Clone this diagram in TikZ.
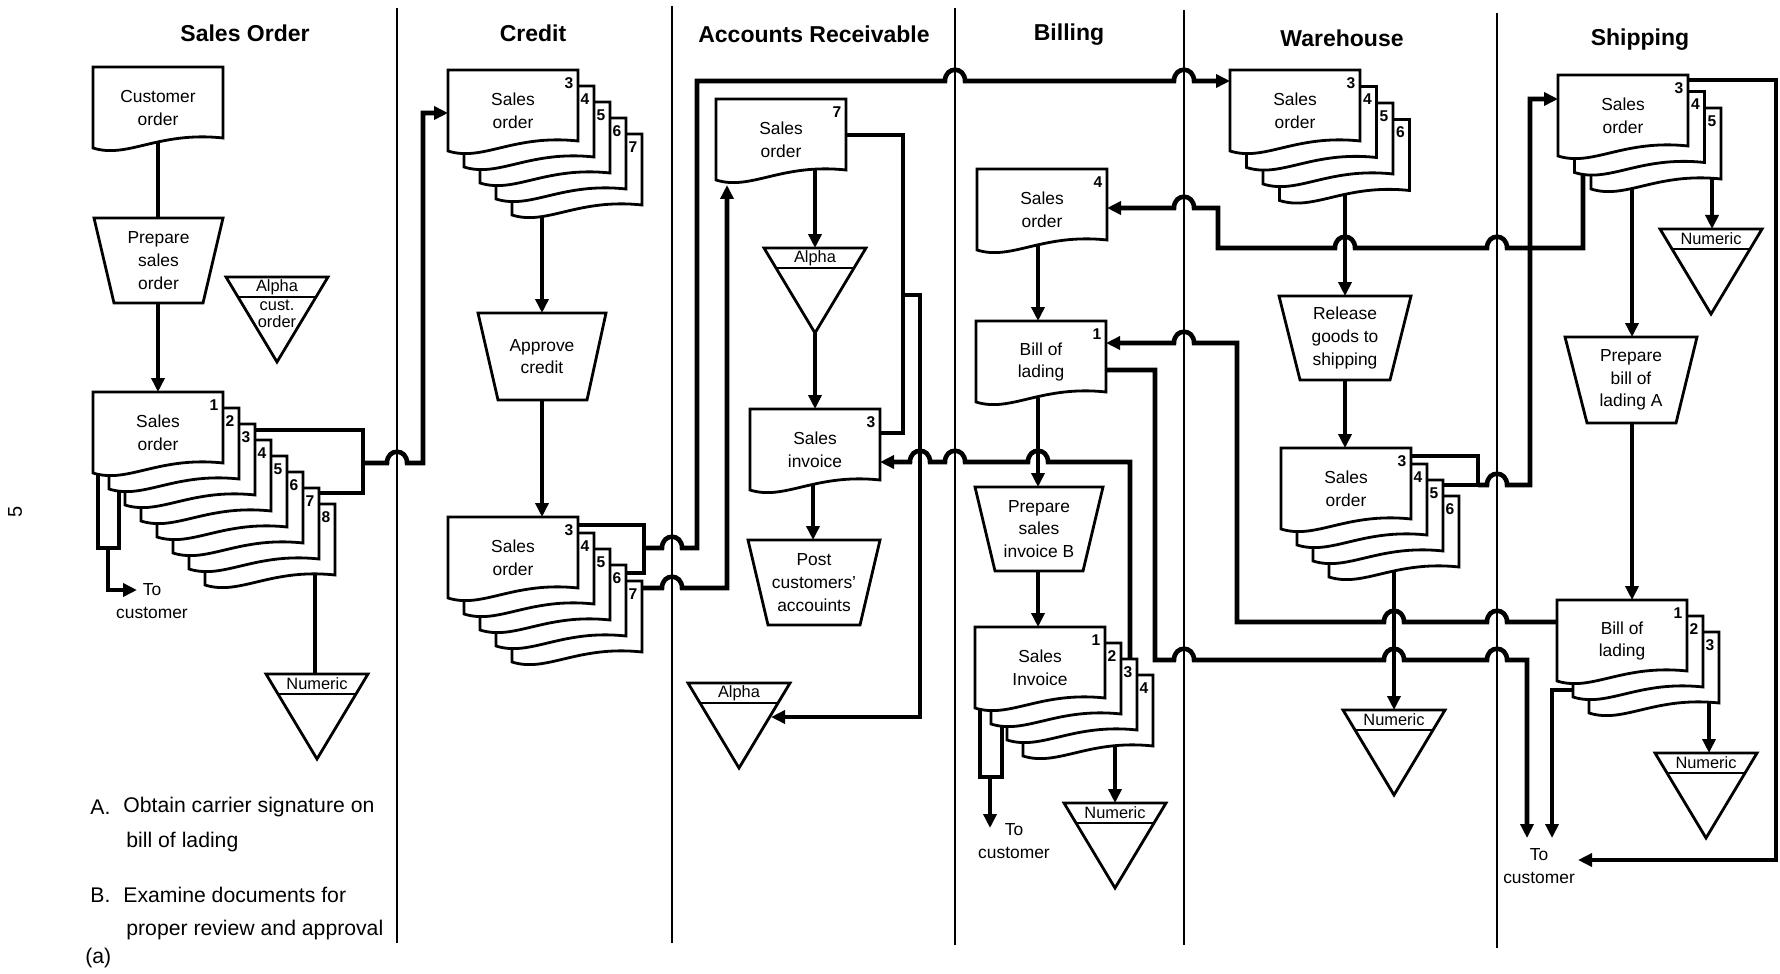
\documentclass[tikz,border=0pt]{standalone}
\usepackage{fontspec}
\setmainfont{Liberation Sans}
\usetikzlibrary{arrows.meta,calc}
\tikzset{
  laneline/.style={line width=1.1pt},
  conn/.style={line width=2.3pt},
  arr/.style={conn,-{Triangle[length=7pt,width=6.5pt]}},
  shp/.style={line width=1.4pt,fill=white},
  doctext/.style={font=\fontsize{8.7}{11.3}\selectfont,align=center,inner sep=0pt},
  numlbl/.style={font=\fontsize{7.8}{9}\selectfont\bfseries,inner sep=0pt},
  lanetitle/.style={font=\fontsize{11.5}{14}\selectfont\bfseries,inner sep=0pt},
  notetext/.style={font=\fontsize{10.6}{13}\selectfont,inner sep=0pt,anchor=west},
  filelbl/.style={font=\fontsize{8.2}{10}\selectfont,inner sep=0pt},
  hr/.style args={#1/#2}{insert path={-- (#1-10,#2) .. controls (#1-10,#2-15) and (#1+10,#2-15) .. (#1+10,#2)}},
  hl/.style args={#1/#2}{insert path={-- (#1+10,#2) .. controls (#1+10,#2-15) and (#1-10,#2-15) .. (#1-10,#2)}}
}
\newcommand\docshape[2]{\draw[shp] (#1,#2) -- (#1+130,#2) -- (#1+130,#2+71) .. controls (#1+65,#2+64) and (#1+35,#2+92) .. (#1,#2+81) -- cycle;}
\newcommand\docstack[7]{%
  \foreach \k in {#3,...,0}{%
    \pgfmathtruncatemacro\dnum{#4+\k}%
    \docshape{#1+#7*\k}{#2+#7*\k}%
    \node[numlbl] (#6n\k) at (#1+#7*\k+121,#2+#7*\k+13) {\dnum};}%
  \node[doctext] (#6) at (#1+65,#2+41) {#5};}
\newcommand\singledoc[5]{%
  \docshape{#1}{#2}%
  \node[numlbl] (#5n) at (#1+121,#2+13) {#3};%
  \node[doctext] (#5) at (#1+65,#2+41) {#4};}
\newcommand\manop[8]{%
  \draw[shp] (#3,#2) -- (#4,#2) -- (#7,#5) -- (#6,#5) -- cycle;
  \node[doctext] (#1) at ({(#3+#4)/2},{(#2+#5)/2}) {#8};}
\newcommand\filetri[4]{%
  \draw[shp] (#1-51,#2) -- (#1+51,#2) -- (#1,#2+85) -- cycle;
  \draw[line width=1.4pt] (#1-39,#2+20) -- (#1+39,#2+20);
  \node[filelbl] (#4) at (#1,#2+10) {#3};}
\begin{document}
\begin{tikzpicture}[x=0.5pt,y=-0.5pt]
\fill[white] (0,0) rectangle (1780,973);
\path[use as bounding box] (0,0) rectangle (1780,973);
% lanes
\draw[laneline] (397,8) -- (397,943);
\draw[laneline] (672,6) -- (672,943);
\draw[laneline] (955,8) -- (955,945);
\draw[laneline] (1184,10) -- (1184,945);
\draw[laneline] (1497,13) -- (1497,948);
% titles
\node[lanetitle] (t1) at (245,33) {Sales Order};
\node[lanetitle] (t2) at (533,33) {Credit};
\node[lanetitle] (t3) at (814,34) {Accounts Receivable};
\node[lanetitle] (t4) at (1069,35) {Billing};
\node[lanetitle] (t5) at (1342,38) {Warehouse};
\node[lanetitle] (t6) at (1640,40) {Shipping};
% connectors: sales order lane
\draw[conn] (158,140) -- (158,218);
\draw[arr] (158,303) -- (158,392);
\draw[conn] (98,470) -- (98,548) -- (119,548) -- (119,485);
\draw[arr] (108,548) -- (108,590) -- (137,590);
\draw[conn] (250,430) -- (363,430) -- (363,493) -- (310,493);
\draw[arr] (363,463) [hr=397/463] -- (423,463) -- (423,113) -- (448,113);
\draw[conn] (315,570) -- (315,674);
% credit
\draw[arr] (542,205) -- (542,313);
\draw[arr] (542,398) -- (542,517);
\draw[conn] (570,525) -- (644,525) -- (644,573) -- (620,573);
\draw[arr] (644,548) [hr=672/548] -- (697,548) -- (697,81) [hr=955/81] [hr=1184/81] -- (1230,81);
\draw[arr] (636,588) [hr=672/588] -- (727,588) -- (727,185);
% accounts receivable
\draw[arr] (815,170) -- (815,248);
\draw[arr] (815,330) -- (815,409);
\draw[arr] (813,485) -- (813,540);
\draw[conn] (840,135) -- (903,135) -- (903,433) -- (875,433);
\draw[arr] (903,295) -- (920,295) -- (920,717) -- (771,717);
\draw[arr] (1130,665) -- (1130,462) [hl=1038/462] [hl=955/462] [hl=920/462] -- (880,462);
% billing
\draw[arr] (1583,170) -- (1583,248) [hl=1497/248] [hl=1345/248] -- (1218,248) -- (1218,208) [hl=1184/208] -- (1107,208);
\draw[arr] (1038,240) -- (1038,321);
\draw[arr] (1038,398) -- (1038,487);
\draw[arr] (1038,571) -- (1038,627);
\draw[arr] (1562,622) [hl=1497/622] [hl=1394/622] -- (1237,622) -- (1237,343) [hl=1184/343] -- (1106,343);
\draw[arr] (1100,370) -- (1155,370) -- (1155,660) [hr=1184/660] [hr=1394/660] [hr=1497/660] -- (1527,660) -- (1527,838);
\draw[conn] (980,700) -- (980,777) -- (1002,777) -- (1002,720);
\draw[arr] (990,777) -- (990,828);
\draw[arr] (1115,740) -- (1115,803);
% warehouse
\draw[arr] (1345,190) -- (1345,296);
\draw[arr] (1345,380) -- (1345,448);
\draw[conn] (1405,456) -- (1478,456) -- (1478,485) -- (1437,485);
\draw[arr] (1478,485) [hr=1497/485] -- (1530,485) -- (1530,99) -- (1558,99);
\draw[arr] (1394,565) -- (1394,710);
% shipping
\draw[arr] (1685,80) -- (1776,80) -- (1776,860) -- (1578,860);
\draw[arr] (1712,172) -- (1712,229);
\draw[arr] (1632,180) -- (1632,337);
\draw[arr] (1632,423) -- (1632,600);
\draw[arr] (1580,690) -- (1552,690) -- (1552,838);
\draw[arr] (1709,698) -- (1709,753);
% shapes: sales order lane
\docshape{93}{67}
\node[doctext] (custorder) at (158,108) {Customer\\order};
\manop{prepso}{218}{94}{223}{303}{114}{203}{Prepare\\sales\\order}
\filetri{277}{277}{Alpha}{acust}
\node[filelbl] (acust2) at (277,305) {cust.};
\node[filelbl] (acust3) at (277,322) {order};
\docstack{93}{392}{7}{1}{Sales\\order}{so}{16}
\filetri{317}{674}{Numeric}{numso}
\node[doctext] (tc1) at (152,601) {To\\customer};
% credit
\docstack{448}{70}{4}{3}{Sales\\order}{cra}{16}
\manop{appr}{313}{478}{606}{400}{498}{587}{Approve\\credit}
\docstack{448}{517}{4}{3}{Sales\\order}{crb}{16}
% accounts receivable
\singledoc{716}{99}{7}{Sales\\order}{arso}
\filetri{815}{248}{Alpha}{araf}
\singledoc{750}{409}{3}{Sales\\invoice}{arsi}
\manop{post}{540}{748}{880}{625}{768}{860}{Post\\customers'\\accouints}
\filetri{739}{683}{Alpha}{arab}
% billing
\singledoc{977}{169}{4}{Sales\\order}{bso}
\singledoc{976}{321}{1}{Bill of\\lading}{bbol}
\manop{prepb}{487}{975}{1103}{571}{995}{1083}{Prepare\\sales\\invoice B}
\docstack{975}{627}{3}{1}{Sales\\Invoice}{bsi}{16}
\filetri{1115}{803}{Numeric}{numb}
\node[doctext] (tc2) at (1014,841) {To\\customer};
% warehouse
\docstack{1230}{70}{3}{3}{Sales\\order}{wsa}{16.5}
\manop{rel}{296}{1279}{1411}{380}{1300}{1390}{Release\\goods to\\shipping}
\docstack{1281}{448}{3}{3}{Sales\\order}{wsb}{16}
\filetri{1394}{710}{Numeric}{numw}
% shipping
\docstack{1558}{75}{2}{3}{Sales\\order}{sso}{16.5}
\filetri{1711}{229}{Numeric}{nums1}
\manop{prepa}{337}{1565}{1697}{423}{1587}{1676}{Prepare\\bill of\\lading A}
\docstack{1557}{600}{2}{1}{Bill of\\lading}{sbol}{16}
\filetri{1706}{753}{Numeric}{nums2}
\node[doctext] (tc3) at (1539,866) {To\\customer};
% notes
\node[notetext] (na) at (90,807) {A.};
\node[notetext] (na1) at (123,807) {Obtain carrier signature on};
\node[notetext] (na2) at (126,842) {bill of lading};
\node[notetext] (nb) at (90,895) {B.};
\node[notetext] (nb1) at (123,895) {Examine documents for};
\node[notetext] (nb2) at (126,930) {proper review and approval};
\node[notetext] (nlab) at (85,958) {(a)};
\node[rotate=90,font=\fontsize{10}{12}\selectfont,inner sep=0pt] (pg) at (15,512) {5};
\end{tikzpicture}
\end{document}
